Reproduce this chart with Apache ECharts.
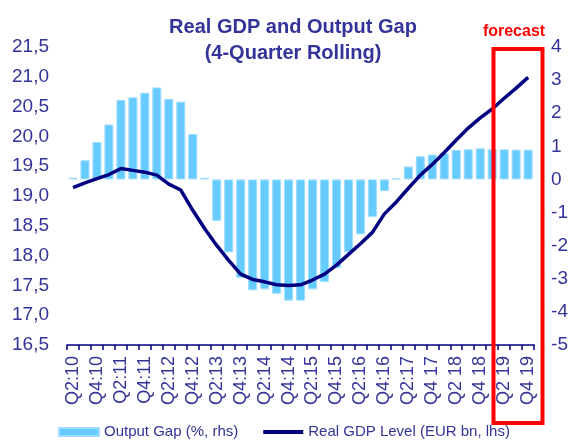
<!DOCTYPE html>
<html>
<head>
<meta charset="utf-8">
<script src="https://cdn.jsdelivr.net/npm/echarts@6/dist/echarts.min.js"></script>
<style>
  html, body { margin: 0; padding: 0; background: #fff; }
  #chart { width: 571px; height: 441px; }
</style>
</head>
<body>
<div id="chart"></div>
<script>
  // quarters, Q2:10 .. Q4:19
  var quarters = [
    'Q2:10','Q3:10','Q4:10','Q1:11','Q2:11','Q3:11','Q4:11','Q1:12','Q2:12','Q3:12',
    'Q4:12','Q1:13','Q2:13','Q3:13','Q4:13','Q1:14','Q2:14','Q3:14','Q4:14','Q1:15',
    'Q2:15','Q3:15','Q4:15','Q1:16','Q2:16','Q3:16','Q4:16','Q1:17','Q2:17','Q3 17',
    'Q4 17','Q1 18','Q2 18','Q3 18','Q4 18','Q1 19','Q2 19','Q3 19','Q4 19'
  ];
  // output gap, % (rhs)
  var outputGap = [
    0.05, 0.58, 1.13, 1.66, 2.40, 2.48, 2.62, 2.78, 2.43, 2.35,
    1.37, 0.05, -1.25, -2.20, -2.97, -3.35, -3.32, -3.45, -3.66, -3.66,
    -3.32, -3.10, -2.67, -2.20, -1.66, -1.13, -0.35, 0.03, 0.39, 0.70,
    0.75, 0.79, 0.89, 0.91, 0.94, 0.91, 0.91, 0.90, 0.90
  ];
  // real GDP level, EUR bn (lhs)
  var realGdp = [
    19.14, 19.22, 19.29, 19.36, 19.46, 19.43, 19.40, 19.35, 19.20, 19.10,
    18.76, 18.45, 18.17, 17.92, 17.69, 17.60, 17.56, 17.51, 17.50, 17.51,
    17.59, 17.69, 17.84, 18.02, 18.20, 18.39, 18.70, 18.90, 19.13, 19.35,
    19.53, 19.73, 19.94, 20.14, 20.31, 20.46, 20.64, 20.81, 20.99
  ];

  var navy = '#333399';
  var font = 'Liberation Sans, Arial, sans-serif';

  var myChart = echarts.init(document.getElementById('chart'));
  var options = {
    animation: false,
    title: {
      text: 'Real GDP and Output Gap\n(4-Quarter Rolling)',
      left: 288,
      top: 9,
      textAlign: 'center',
      textStyle: {
        color: navy,
        fontFamily: font,
        fontSize: 20,
        fontWeight: 'bold',
        lineHeight: 26
      }
    },
    legend: {
      left: 58,
      top: 424,
      padding: 0,
      itemWidth: 40,
      itemHeight: 8,
      itemGap: 25,
      textStyle: { color: navy, fontFamily: font, fontSize: 15, lineHeight: 16 },
      data: [
        { name: 'Output Gap (%, rhs)', icon: 'rect' },
        { name: 'Real GDP Level (EUR bn, lhs)', icon: 'path://M0,0 H40 V4 H0 Z' }
      ]
    },
    grid: { left: 67, right: 34, top: 47, bottom: 96 },
    xAxis: {
      type: 'category',
      data: quarters,
      boundaryGap: true,
      axisLine: { show: true, onZero: false, lineStyle: { color: '#000080', width: 1.5 } },
      axisTick: { show: true, interval: 0, length: 5, lineStyle: { color: '#000080', width: 1.5 } },
      axisLabel: {
        interval: 1,
        rotate: 90,
        margin: 11,
        color: navy,
        fontFamily: font,
        fontSize: 18
      },
      splitLine: { show: false }
    },
    yAxis: [
      {
        type: 'value',
        min: 16.5,
        max: 21.5,
        interval: 0.5,
        axisLine: { show: false },
        axisTick: { show: false },
        splitLine: { show: false },
        axisLabel: {
          margin: 18,
          color: navy,
          fontFamily: font,
          fontSize: 19,
          formatter: function (v) { return v.toFixed(1).replace('.', ','); }
        }
      },
      {
        type: 'value',
        min: -5,
        max: 4,
        interval: 1,
        axisLine: { show: false },
        axisTick: { show: false },
        splitLine: { show: false },
        axisLabel: {
          margin: 17,
          color: navy,
          fontFamily: font,
          fontSize: 19
        }
      }
    ],
    series: [
      {
        name: 'Output Gap (%, rhs)',
        type: 'bar',
        yAxisIndex: 1,
        barWidth: 9,
        data: outputGap,
        itemStyle: { color: '#66CCFF', borderColor: '#9EDDFF', borderWidth: 1 }
      },
      {
        name: 'Real GDP Level (EUR bn, lhs)',
        type: 'line',
        yAxisIndex: 0,
        data: realGdp,
        symbol: 'none',
        lineStyle: { color: '#000080', width: 3.5 },
        itemStyle: { color: '#000080' },
        z: 5
      }
    ],
    graphic: [
      {
        type: 'rect',
        shape: { x: 493.5, y: 49, width: 49, height: 374 },
        style: { fill: 'none', stroke: '#FF0000', lineWidth: 4 },
        z: 100
      },
      {
        type: 'text',
        x: 514,
        y: 32,
        style: {
          text: 'forecast',
          fill: '#FF0000',
          font: 'bold 16px ' + font,
          textAlign: 'center',
          textVerticalAlign: 'middle'
        },
        z: 100
      }
    ]
  };
  myChart.setOption(options);
</script>
</body>
</html>
